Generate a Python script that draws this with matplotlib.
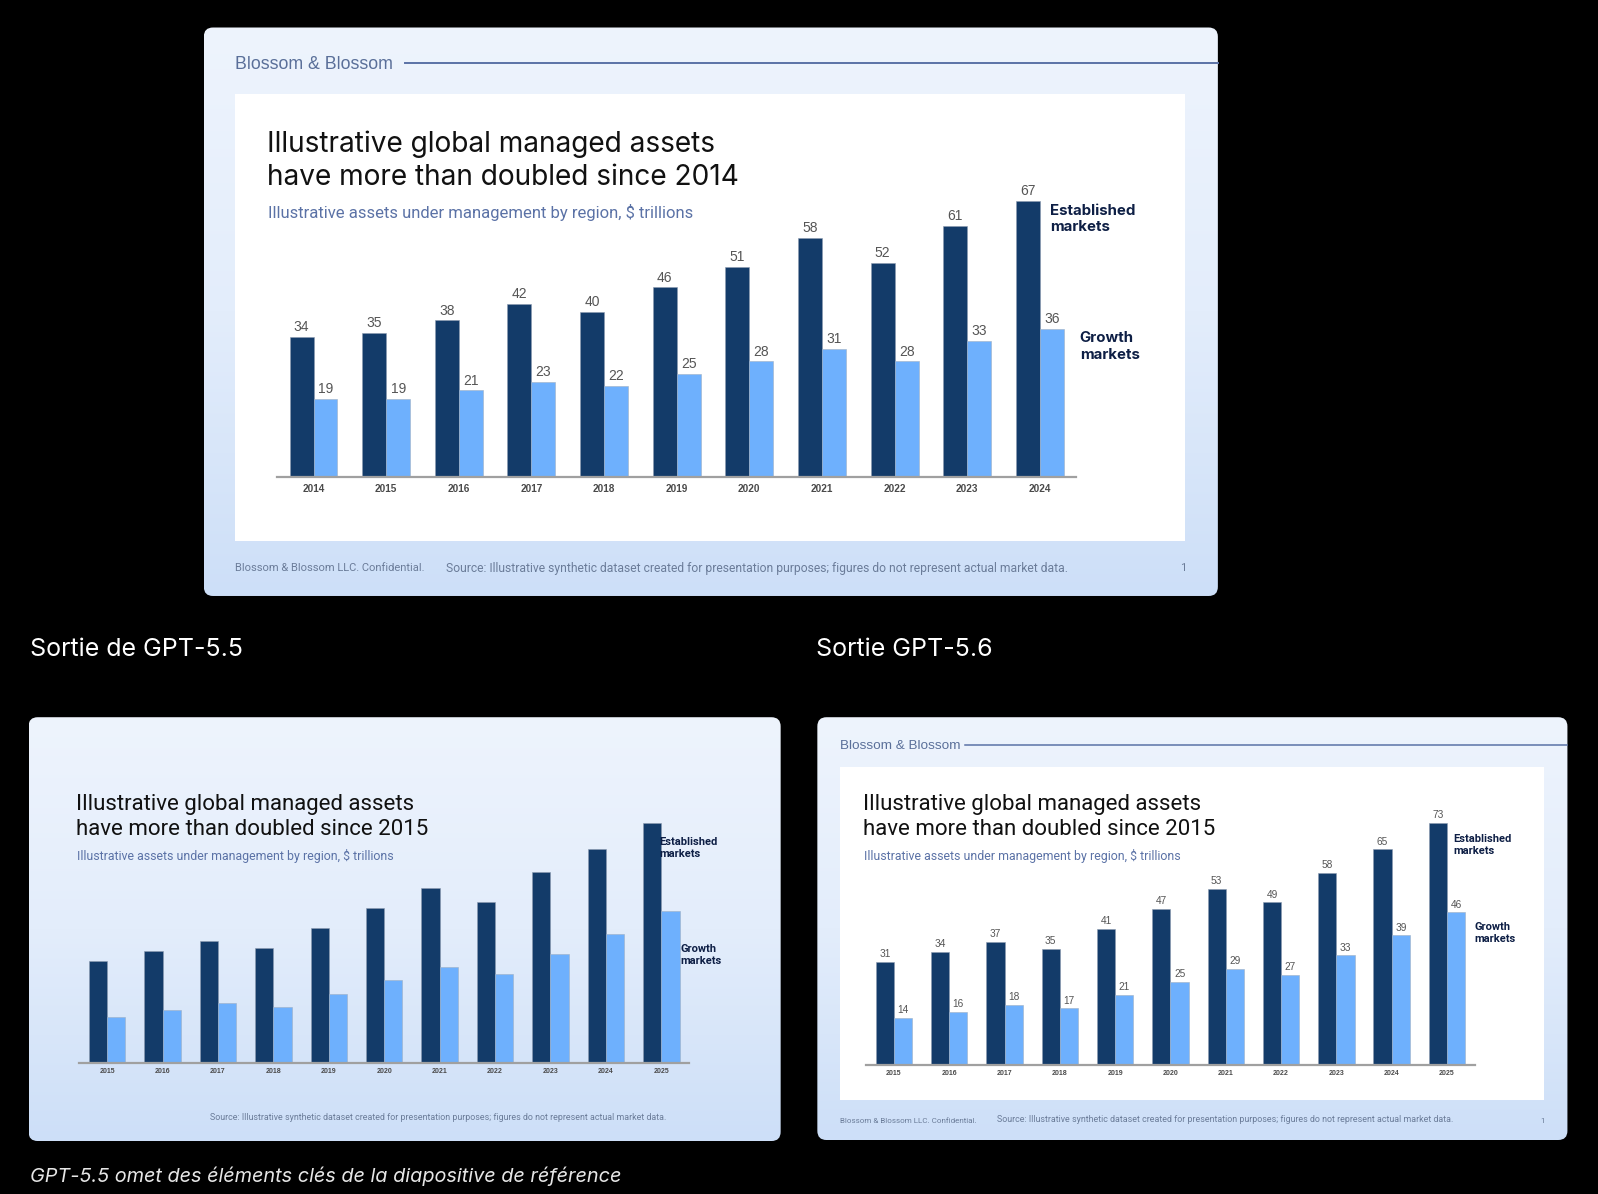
import numpy as np
import matplotlib
matplotlib.use('Agg')
import matplotlib.pyplot as plt
from matplotlib.patches import FancyBboxPatch
from matplotlib.colors import LinearSegmentedColormap

# reference slide data ($ trillions)
years_ref = ['2014', '2015', '2016', '2017', '2018', '2019', '2020', '2021', '2022', '2023', '2024']
est_ref = [34, 35, 38, 42, 40, 46, 51, 58, 52, 61, 67]
grow_ref = [19, 19, 21, 23, 22, 25, 28, 31, 28, 33, 36]

# GPT-5.5 output (no value labels)
years_55 = ['2015', '2016', '2017', '2018', '2019', '2020', '2021', '2022', '2023', '2024', '2025']
est_55 = [31, 34, 37, 35, 41, 47, 53, 49, 58, 65, 73]
grow_55 = [14, 16, 18, 17, 21, 25, 29, 27, 33, 39, 46]

# GPT-5.6 output
years_56 = ['2015', '2016', '2017', '2018', '2019', '2020', '2021', '2022', '2023', '2024', '2025']
est_56 = [31, 34, 37, 35, 41, 47, 53, 49, 58, 65, 73]
grow_56 = [14, 16, 18, 17, 21, 25, 29, 27, 33, 39, 46]

DARK = '#133b69'
LIGHT = '#6eb0fd'
NAVY_TXT = '#0e1f45'
HEAD = '#5a6f99'
SANS = ['Inter', 'DejaVu Sans']
NARROW = ['Liberation Sans Narrow', 'Roboto', 'DejaVu Sans']
ARIAL = ['Liberation Sans', 'DejaVu Sans']

W, H = 1568.0, 1172.0   # layout units (pixels of the reference)

fig = plt.figure(figsize=(15.98, 11.94), dpi=100)
fig.patch.set_facecolor('black')

cv = fig.add_axes([0, 0, 1, 1])
cv.set_xlim(0, W)
cv.set_ylim(H, 0)
cv.axis('off')

slide_cmap = LinearSegmentedColormap.from_list('slide', ['#eef4fd', '#e3edfb', '#cddff8'])
grad = np.linspace(0, 1, 256).reshape(-1, 1)


def slide(x0, y0, x1, y1):
    p = FancyBboxPatch((x0, y0), x1 - x0, y1 - y0, boxstyle='round,pad=0,rounding_size=9',
                       facecolor='none', edgecolor='none')
    cv.add_patch(p)
    im = cv.imshow(grad, cmap=slide_cmap, extent=[x0, x1, y1, y0], aspect='auto', origin='upper', zorder=1)
    im.set_clip_path(p)


def rect(fr):
    x0, y0, x1, y1 = fr
    return [x0 / W, 1 - y1 / H, (x1 - x0) / W, (y1 - y0) / H]


def chart(fr, years, est, grow, ymax, lab_size, tick_size, tick_pad, est_xy, grow_xy, name_size,
          name_font, values=True):
    ax = fig.add_axes(rect(fr))
    ax.patch.set_alpha(0)
    x = np.arange(len(years))
    w = 0.33
    ax.bar(x - w / 2, est, w, color=DARK, edgecolor='#8d9bb0', linewidth=0.4)
    ax.bar(x + w / 2, grow, w, color=LIGHT, edgecolor='#9fb0c4', linewidth=0.4)
    if values:
        for i in range(len(years)):
            ax.annotate(str(est[i]), (x[i] - w / 2, est[i]), xytext=(0, 2), textcoords='offset points',
                        ha='center', va='bottom', fontsize=lab_size, color='#555555', family=ARIAL)
            ax.annotate(str(grow[i]), (x[i] + w / 2, grow[i]), xytext=(0, 2), textcoords='offset points',
                        ha='center', va='bottom', fontsize=lab_size, color='#555555', family=ARIAL)
    ax.set_xlim(-0.5, len(years) - 0.5)
    ax.set_ylim(0, ymax)
    ax.set_xticks(x)
    ax.set_xticklabels(years, fontsize=tick_size, fontweight='bold', color='#4a4a4a', family=ARIAL)
    ax.tick_params(axis='x', length=0, pad=tick_pad)
    ax.set_yticks([])
    for s in ['top', 'left', 'right']:
        ax.spines[s].set_visible(False)
    ax.spines['bottom'].set_color('#a0a0a0')
    ax.spines['bottom'].set_linewidth(1.6)
    n = len(years) - 1
    ax.text(n + est_xy[0], est[-1] + est_xy[1], 'Established\nmarkets', fontsize=name_size, fontweight='bold',
            color=NAVY_TXT, family=name_font, va='center', ha='left', linespacing=1.25, clip_on=False)
    ax.text(n + grow_xy[0], grow[-1] + grow_xy[1], 'Growth\nmarkets', fontsize=name_size, fontweight='bold',
            color=NAVY_TXT, family=name_font, va='center', ha='left', linespacing=1.25, clip_on=False)
    return ax


SRC = 'Source: Illustrative synthetic dataset created for presentation purposes; figures do not ' \
      'represent actual market data.'
SUB = 'Illustrative assets under management by region, $ trillions'

# ---- reference slide (top) ----
slide(200, 27, 1195, 585)
cv.text(231, 63, 'Blossom & Blossom', fontsize=12.8, color=HEAD, family=ARIAL, va='center', zorder=3)
cv.plot([397, 1195], [62, 62], color='#5b72a6', lw=1.4, zorder=3)
cv.add_patch(plt.Rectangle((231, 92), 932, 439, facecolor='white', edgecolor='none', zorder=2))
cv.text(262, 158, 'Illustrative global managed assets\nhave more than doubled since 2014', fontsize=20.2,
        color='#111111', family=SANS, va='center', linespacing=1.3, zorder=3)
cv.text(263, 209, SUB, fontsize=12.0, color='#5b72a6', family=NARROW, va='center', zorder=3)
cv.text(231, 558, 'Blossom & Blossom LLC. Confidential.', fontsize=8.0, color='#6b7c99', family=NARROW,
        va='center', zorder=3)
cv.text(438, 558, SRC, fontsize=8.7, color='#6b7c99', family=NARROW, va='center', zorder=3)
cv.text(1158, 558, '1', fontsize=8.0, color='#6b7c99', family=NARROW, va='center', zorder=3)
chart((272, 181, 1056, 468), years_ref, est_ref, grow_ref, 71, 10, 7.2, 5.5, (0.14, -4.4), (0.55, -4.4),
      10.8, SANS)

# ---- captions ----
cv.text(29, 638, 'Sortie de GPT-5.5', fontsize=18, color='white', family=SANS, va='center')
cv.text(801, 638, 'Sortie GPT-5.6', fontsize=18, color='white', family=SANS, va='center')
cv.text(29, 1155, 'GPT-5.5 omet des éléments clés de la diapositive de référence', fontsize=14.3,
        color='#e6e6e6', family=SANS, style='italic', va='center')

# ---- GPT-5.5 slide (bottom left) ----
slide(28, 704, 766, 1120)
cv.text(75, 802, 'Illustrative global managed assets\nhave more than doubled since 2015', fontsize=16,
        color='#111111', family=NARROW, va='center', linespacing=1.2, zorder=3)
cv.text(76, 840, SUB, fontsize=8.9, color='#5b72a6', family=NARROW, va='center', zorder=3)
cv.text(206, 1097, SRC, fontsize=6.4, color='#6b7c99', family=NARROW, va='center', zorder=3)
chart((78, 785, 676, 1043), years_55, est_55, grow_55, 80, 7, 5.0, 4, (-0.04, -7.7), (0.35, -13.2),
      8, NARROW, values=False)

# ---- GPT-5.6 slide (bottom right) ----
slide(802, 704, 1538, 1119)
cv.text(824, 732, 'Blossom & Blossom', fontsize=9.7, color=HEAD, family=ARIAL, va='center', zorder=3)
cv.plot([947, 1538], [731, 731], color='#5b72a6', lw=1.1, zorder=3)
cv.add_patch(plt.Rectangle((824, 753), 691, 327, facecolor='white', edgecolor='none', zorder=2))
cv.text(847, 802, 'Illustrative global managed assets\nhave more than doubled since 2015', fontsize=16,
        color='#111111', family=NARROW, va='center', linespacing=1.2, zorder=3)
cv.text(848, 840, SUB, fontsize=8.9, color='#5b72a6', family=NARROW, va='center', zorder=3)
cv.text(824, 1100, 'Blossom & Blossom LLC. Confidential.', fontsize=5.8, color='#6b7c99', family=NARROW,
        va='center', zorder=3)
cv.text(978, 1099, SRC, fontsize=6.4, color='#6b7c99', family=NARROW, va='center', zorder=3)
cv.text(1511, 1100, '1', fontsize=5.8, color='#6b7c99', family=NARROW, va='center', zorder=3)
chart((850, 785, 1447, 1045), years_56, est_56, grow_56, 80, 7.3, 5.0, 4, (0.11, -6.7), (0.5, -6.1),
      8, NARROW)

fig.savefig('out.png', dpi=100, facecolor=fig.get_facecolor())
